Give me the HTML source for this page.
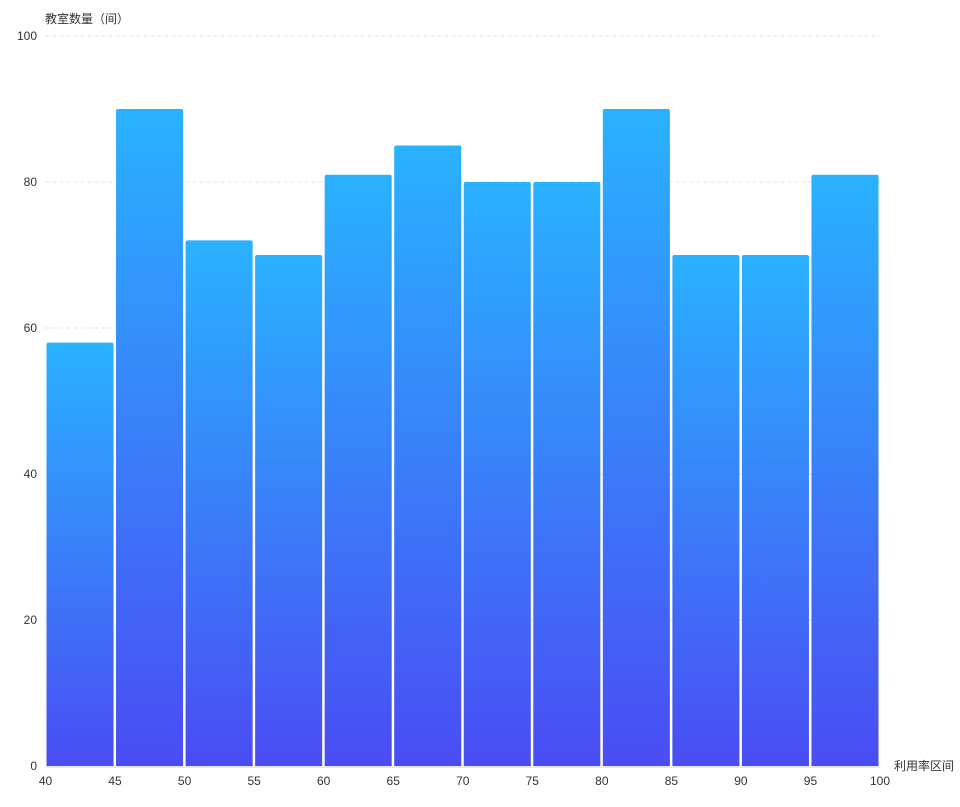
<!DOCTYPE html>
<html><head><meta charset="utf-8"><style>
body{margin:0;background:#fff;}
svg{display:block;font-family:"Liberation Sans","Noto Sans CJK SC",sans-serif;}
</style></head><body>
<svg id="chart" width="960" height="807" viewBox="0 0 960 807">
<defs><linearGradient id="g" x1="0" y1="0" x2="0" y2="1"><stop offset="0" stop-color="#29B2FF"/><stop offset="1" stop-color="#4A4CF3"/></linearGradient></defs>
<g id="grid"></g><g id="bars"></g><g id="axes"></g>
</svg>
<script>
const binStarts=[40,45,50,55,60,65,70,75,80,85,90,95];
const counts=[58,90,72,70,81,85,80,80,90,70,70,81];
const xTicks=[40,45,50,55,60,65,70,75,80,85,90,95,100];
const yTicks=[0,20,40,60,80,100];
const binWidth=5;
const NS="http://www.w3.org/2000/svg";
const X0=45.5,X1=880,Y0=766,Y1=36;
const xs=v=>X0+(v-40)/(100-40)*(X1-X0);
const ys=v=>Y0-(v/100)*(Y0-Y1);
function mk(t,a,p){const e=document.createElementNS(NS,t);for(const k in a)e.setAttribute(k,a[k]);p.appendChild(e);return e;}
const grid=document.getElementById('grid'),bars=document.getElementById('bars'),axes=document.getElementById('axes');
yTicks.forEach(v=>{
 if(v>0){const l=mk('line',{x1:X0,x2:X1,y1:ys(v),y2:ys(v),stroke:'#e3e3e3','stroke-dasharray':'4,3'},grid);
 
 }
 const t=mk('text',{x:37,y:ys(v)+4,'text-anchor':'end','font-size':12,fill:'#333'},axes);t.textContent=v;
 
 
});
counts.forEach((c,i)=>{
 const x=xs(binStarts[i])+1,w=xs(binStarts[i]+binWidth)-xs(binStarts[i])-2.5;
 const r=mk('path',{d:`M${x},${Y0}V${ys(c)+2}Q${x},${ys(c)} ${x+2},${ys(c)}H${x+w-2}Q${x+w},${ys(c)} ${x+w},${ys(c)+2}V${Y0}Z`,fill:'url(#g)'},bars);
 
 
});
let a=mk('line',{x1:X0,x2:X1,y1:Y0+1,y2:Y0+1,stroke:'#ccd0e0'},axes);


xTicks.forEach(v=>{
 const t=mk('text',{x:xs(v),y:785,'text-anchor':'middle','font-size':12,fill:'#333'},axes);t.textContent=v;
 
 
});
let t=mk('text',{x:45,y:23,'font-size':12,fill:'#333'},axes);t.textContent='教室数量（间）';


t=mk('text',{x:894,y:770,'font-size':12,fill:'#333'},axes);t.textContent='利用率区间';


</script>
</body></html>
